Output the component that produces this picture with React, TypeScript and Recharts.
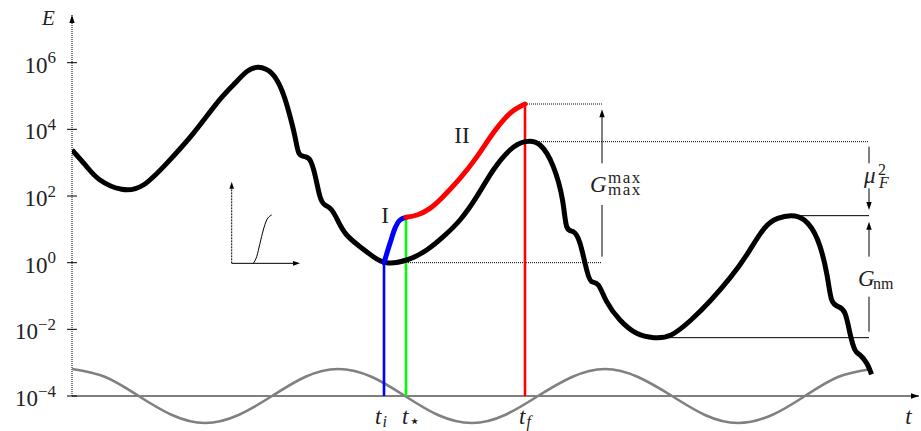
import { ComposedChart, Line, ReferenceDot, ReferenceLine, XAxis, YAxis } from 'recharts'

const FONT = '"Liberation Serif", "DejaVu Serif", serif'
const INK = '#222'

// t in arbitrary units, E drawn as log10(E)
const T_MAX = 84.7
const LOG_MIN = -5.05
const LOG_MAX = 7.43
const logTicks = [-4, -2, 0, 2, 4, 6]

const tI = 31.2
const tStar = 33.4
const tF = 45.3
const tGap = 53.0
const tRight = 79.7

const energyT = [
  0, 1.47, 2.8, 4.97, 7.13, 9.47, 12.13, 14.47, 16.13, 17.47, 18.63, 19.97, 20.97, 21.63, 22.3,
  22.7, 23.3, 23.8, 24.3, 24.8, 25.3, 25.97, 26.63, 27.47, 28.8, 30.13, 31.47, 33.47, 35.47, 37.13,
  38.8, 40.47, 42.13, 43.8, 45.3, 46.8, 48.13, 49.05, 49.47, 50.13, 50.8, 51.47, 51.97, 52.63, 53.47,
  54.8, 56.47, 58.2, 59.9, 61.9, 63.9, 65.9, 67.57, 69.23, 70.57, 71.9, 73.23, 74.57, 75.5, 75.97,
  76.63, 77.3, 77.8, 78.3, 78.8, 79.47, 79.95,
]
const energyLog = [
  3.38, 2.88, 2.48, 2.2, 2.33, 2.98, 3.88, 4.78, 5.33, 5.73, 5.86, 5.68, 5.18, 4.58, 3.78,
  3.28, 3.18, 3.08, 2.63, 1.98, 1.73, 1.58, 1.23, 0.83, 0.48, 0.18, 0.0, 0.08, 0.38, 0.78,
  1.28, 1.98, 2.78, 3.38, 3.63, 3.53, 2.88, 1.88, 1.08, 0.93, 0.58, -0.22, -0.57, -0.67, -1.17,
  -1.72, -2.12, -2.25, -2.17, -1.72, -1.12, -0.42, 0.28, 1.03, 1.33, 1.41, 1.28, 0.68, -0.37, -1.12,
  -1.32, -1.52, -2.12, -2.62, -2.77, -3.02, -3.35,
]

const waveT = [
  0, 3.33, 6.66, 10, 13.3, 16.65, 20, 23.3, 26.6, 30, 33.3, 36.6, 40, 43.3, 46.6, 50, 53.3, 56.6,
  60, 63.3, 66.6, 70, 73.3, 76.6, 80,
]
const waveLog = [
  -3.19, -3.43, -4.0, -4.57, -4.81, -4.57, -4.0, -3.43, -3.19, -3.43, -4.0, -4.57, -4.81, -4.57,
  -4.0, -3.43, -3.19, -3.43, -4.0, -4.57, -4.81, -4.57, -4.0, -3.43, -3.19,
]

const pathIT = [31.2, 31.8, 32.3, 32.8, 33.4]
const pathILog = [0, 0.58, 1.03, 1.28, 1.36]

const pathIIT = [33.4, 34.5, 35.8, 37.1, 38.8, 40.5, 42.1, 43.8, 45.3]
const pathIILog = [1.36, 1.43, 1.63, 1.98, 2.53, 3.18, 3.88, 4.48, 4.76]

const insetT = [18.13, 18.47, 18.8, 19.13, 19.47, 19.97]
const insetLog = [-0.02, 0.18, 0.58, 0.98, 1.28, 1.43]

// levels used by the annotations
const levelMin = 0
const levelPeakII = 4.76
const levelPeak = 3.63
const levelLocalPeak = 1.41
const levelLocalMin = -2.25
const tLocalPeak = 71.9
const tLocalMin = 58.2

const toPoints = (ts: number[], vs: number[]) => ts.map((t, i) => ({ t, v: vs[i] }))

const energy = toPoints(energyT, energyLog)
const wave = toPoints(waveT, waveLog)
const pathI = toPoints(pathIT, pathILog)
const pathII = toPoints(pathIIT, pathIILog)
const inset = toPoints(insetT, insetLog)
const riseI = toPoints([tI, tI], [-4, pathILog[0]])
const riseStar = toPoints([tStar, tStar], [-4, 1.3])
const riseF = toPoints([tF, tF], [-4, levelPeakII])

const seg = (t1: number, v1: number, t2: number, v2: number) => [
  { x: t1, y: v1 },
  { x: t2, y: v2 },
]

function arrowHead(dir: 'up' | 'down' | 'right', len = 8, half = 2.7) {
  return (p: any) => {
    const { cx, cy } = p
    let d = ''
    if (dir === 'up') d = `M${cx},${cy} L${cx - half},${cy + len} L${cx + half},${cy + len} Z`
    if (dir === 'down') d = `M${cx},${cy} L${cx - half},${cy - len} L${cx + half},${cy - len} Z`
    if (dir === 'right') d = `M${cx},${cy} L${cx - len},${cy - half} L${cx - len},${cy + half} Z`
    return <path d={d} fill="#000" />
  }
}

function LogTick(props: any) {
  const { x, y, payload } = props
  const v = payload.value
  const exp = v < 0 ? `\u2212${-v}` : `${v}`
  return (
    <g>
      <line x1={x - 5} x2={x + 5} y1={y} y2={y} stroke="#000" strokeWidth={1} />
      <text x={x - 16} y={y + 10} textAnchor="end" fontFamily={FONT} fontSize={23} fill={INK}>
        10
        <tspan dy={-9.3} fontSize={17}>
          {exp}
        </tspan>
      </text>
    </g>
  )
}

const txt = { fontFamily: FONT, fill: INK }

function timeLabel(sub: string, dx: number, subSize = 16, subDy = 3, italicSub = true) {
  return (p: any) => (
    <text x={p.cx + dx} y={p.cy + 28} fontSize={23} {...txt}>
      <tspan fontStyle="italic">t</tspan>
      <tspan dx={1} dy={subDy} fontSize={subSize} fontStyle={italicSub ? 'italic' : 'normal'}>
        {sub}
      </tspan>
    </text>
  )
}

export default function App() {
  return (
    <div style={{ position: 'absolute', left: 0, top: 0, background: '#fff' }}>
      <ComposedChart width={921} height={431} margin={{ top: 15, right: 2, bottom: 0, left: 0 }}>
        <XAxis dataKey="t" type="number" domain={[0, T_MAX]} hide allowDataOverflow />
        <YAxis
          type="number"
          domain={[LOG_MIN, LOG_MAX]}
          ticks={logTicks}
          tick={<LogTick />}
          axisLine={false}
          tickLine={false}
          tickSize={0}
          tickMargin={0}
          width={72}
          allowDataOverflow
        />

        {/* axes */}
        <ReferenceLine segment={seg(0, -4, T_MAX, -4)} stroke="#000" strokeWidth={1} ifOverflow="visible" />
        <ReferenceLine segment={seg(0, -4, 0, LOG_MAX)} stroke="#000" strokeWidth={1} strokeDasharray="1 1" ifOverflow="visible" />
        <ReferenceDot x={T_MAX} y={-4} ifOverflow="visible" shape={arrowHead('right')} />
        <ReferenceDot x={0} y={LOG_MAX} ifOverflow="visible" shape={arrowHead('up')} />

        {/* guide lines */}
        <ReferenceLine segment={seg(tF, levelPeakII, tGap, levelPeakII)} stroke="#000" strokeDasharray="1 1" ifOverflow="visible" />
        <ReferenceLine segment={seg(tF, levelPeak, tRight, levelPeak)} stroke="#000" strokeDasharray="1 1" ifOverflow="visible" />
        <ReferenceLine segment={seg(tI, levelMin, tGap, levelMin)} stroke="#000" strokeDasharray="1 1" ifOverflow="visible" />
        <ReferenceLine segment={seg(tLocalPeak, levelLocalPeak, tRight, levelLocalPeak)} stroke="#000" strokeWidth={1} ifOverflow="visible" />
        <ReferenceLine segment={seg(tLocalMin, levelLocalMin, tRight, levelLocalMin)} stroke="#000" strokeWidth={1} ifOverflow="visible" />

        {/* G max max arrow */}
        <ReferenceLine segment={seg(tGap, 0.18, tGap, 1.73)} stroke="#000" ifOverflow="visible" />
        <ReferenceLine segment={seg(tGap, 2.98, tGap, 4.5)} stroke="#000" ifOverflow="visible" />
        <ReferenceDot x={tGap} y={4.6} ifOverflow="visible" shape={arrowHead('up')} />

        {/* mu_F^2 arrow */}
        <ReferenceLine segment={seg(tRight, 3.48, tRight, 2.98)} stroke="#000" ifOverflow="visible" />
        <ReferenceLine segment={seg(tRight, 2.23, tRight, 1.75)} stroke="#000" ifOverflow="visible" />
        <ReferenceDot x={tRight} y={1.58} ifOverflow="visible" shape={arrowHead('down')} />

        {/* G_nm arrow */}
        <ReferenceLine segment={seg(tRight, 1.05, tRight, 0.18)} stroke="#000" ifOverflow="visible" />
        <ReferenceLine segment={seg(tRight, -1.02, tRight, -2.07)} stroke="#000" ifOverflow="visible" />
        <ReferenceDot x={tRight} y={1.23} ifOverflow="visible" shape={arrowHead('up')} />

        {/* inset */}
        <ReferenceLine segment={seg(15.97, -0.02, 15.97, 2.3)} stroke="#000" strokeDasharray="2 1" ifOverflow="visible" />
        <ReferenceLine segment={seg(15.97, -0.02, 22.6, -0.02)} stroke="#000" ifOverflow="visible" />
        <ReferenceDot x={15.97} y={2.43} ifOverflow="visible" shape={arrowHead('up', 7, 2.3)} />
        <ReferenceDot x={22.8} y={-0.02} ifOverflow="visible" shape={arrowHead('right', 7, 2.3)} />
        <Line data={inset} dataKey="v" type="monotone" stroke="#000" strokeWidth={1} dot={false} activeDot={false} isAnimationActive={false} />

        {/* series */}
        <Line data={wave} dataKey="v" type="natural" stroke="#808080" strokeWidth={2.6} dot={false} activeDot={false} isAnimationActive={false} />
        <Line data={riseI} dataKey="v" type="linear" stroke="#0000ff" strokeWidth={2.6} dot={false} activeDot={false} isAnimationActive={false} />
        <Line data={riseStar} dataKey="v" type="linear" stroke="#00ff00" strokeWidth={2.6} dot={false} activeDot={false} isAnimationActive={false} />
        <Line data={riseF} dataKey="v" type="linear" stroke="#ff0000" strokeWidth={2.6} dot={false} activeDot={false} isAnimationActive={false} />
        <Line data={energy} dataKey="v" type="natural" stroke="#000" strokeWidth={5} dot={false} activeDot={false} isAnimationActive={false} strokeLinejoin="round" />
        <Line data={pathI} dataKey="v" type="monotone" stroke="#0000ff" strokeWidth={5} strokeLinecap="round" dot={false} activeDot={false} isAnimationActive={false} />
        <Line data={pathII} dataKey="v" type="natural" stroke="#ff0000" strokeWidth={5} strokeLinecap="round" dot={false} activeDot={false} isAnimationActive={false} />

        {/* labels */}
        <ReferenceDot
          x={0}
          y={LOG_MAX}
          ifOverflow="visible"
          shape={(p: any) => (
            <text x={p.cx - 23.5} y={p.cy + 10} textAnchor="middle" fontSize={21} fontStyle="italic" {...txt}>
              E
            </text>
          )}
        />
        <ReferenceDot
          x={T_MAX}
          y={-4}
          ifOverflow="visible"
          shape={(p: any) => (
            <text x={p.cx - 10.5} y={p.cy + 28} textAnchor="middle" fontSize={23} fontStyle="italic" {...txt}>
              t
            </text>
          )}
        />
        <ReferenceDot x={tI} y={-4} ifOverflow="visible" shape={timeLabel('i', -9)} />
        <ReferenceDot x={tStar} y={-4} ifOverflow="visible" shape={timeLabel('\u22c6', -4, 18, 3, false)} />
        <ReferenceDot x={tF} y={-4} ifOverflow="visible" shape={timeLabel('f', -6)} />
        <ReferenceDot
          x={31.3}
          y={1.19}
          ifOverflow="visible"
          shape={(p: any) => (
            <text x={p.cx} y={p.cy} textAnchor="middle" fontSize={23} {...txt}>
              I
            </text>
          )}
        />
        <ReferenceDot
          x={39.0}
          y={3.58}
          ifOverflow="visible"
          shape={(p: any) => (
            <text x={p.cx} y={p.cy} textAnchor="middle" fontSize={23} {...txt}>
              II
            </text>
          )}
        />
        <ReferenceDot
          x={tGap}
          y={0}
          ifOverflow="visible"
          shape={(p: any) => (
            <text fontSize={23} {...txt}>
              <tspan x={p.cx - 12} y={p.cy - 71} fontStyle="italic">
                G
              </tspan>
              <tspan x={p.cx + 6} y={p.cy - 79.7} fontSize={17} letterSpacing={1.5}>
                max
              </tspan>
              <tspan x={p.cx + 6} y={p.cy - 67.2} fontSize={17} letterSpacing={1.5}>
                max
              </tspan>
            </text>
          )}
        />
        <ReferenceDot
          x={tRight}
          y={levelPeak}
          ifOverflow="visible"
          shape={(p: any) => (
            <text fontSize={23} {...txt}>
              <tspan x={p.cx - 5} y={p.cy + 41.3} fontStyle="italic">
                μ
              </tspan>
              <tspan x={p.cx + 9} y={p.cy + 33.3} fontSize={16}>
                2
              </tspan>
              <tspan x={p.cx + 10} y={p.cy + 46.3} fontSize={16} fontStyle="italic">
                F
              </tspan>
            </text>
          )}
        />
        <ReferenceDot
          x={tRight}
          y={levelLocalPeak}
          ifOverflow="visible"
          shape={(p: any) => (
            <text fontSize={23} {...txt}>
              <tspan x={p.cx - 11} y={p.cy + 70} fontStyle="italic">
                G
              </tspan>
              <tspan x={p.cx + 4} y={p.cy + 73.5} fontSize={16}>
                nm
              </tspan>
            </text>
          )}
        />
      </ComposedChart>
    </div>
  )
}
